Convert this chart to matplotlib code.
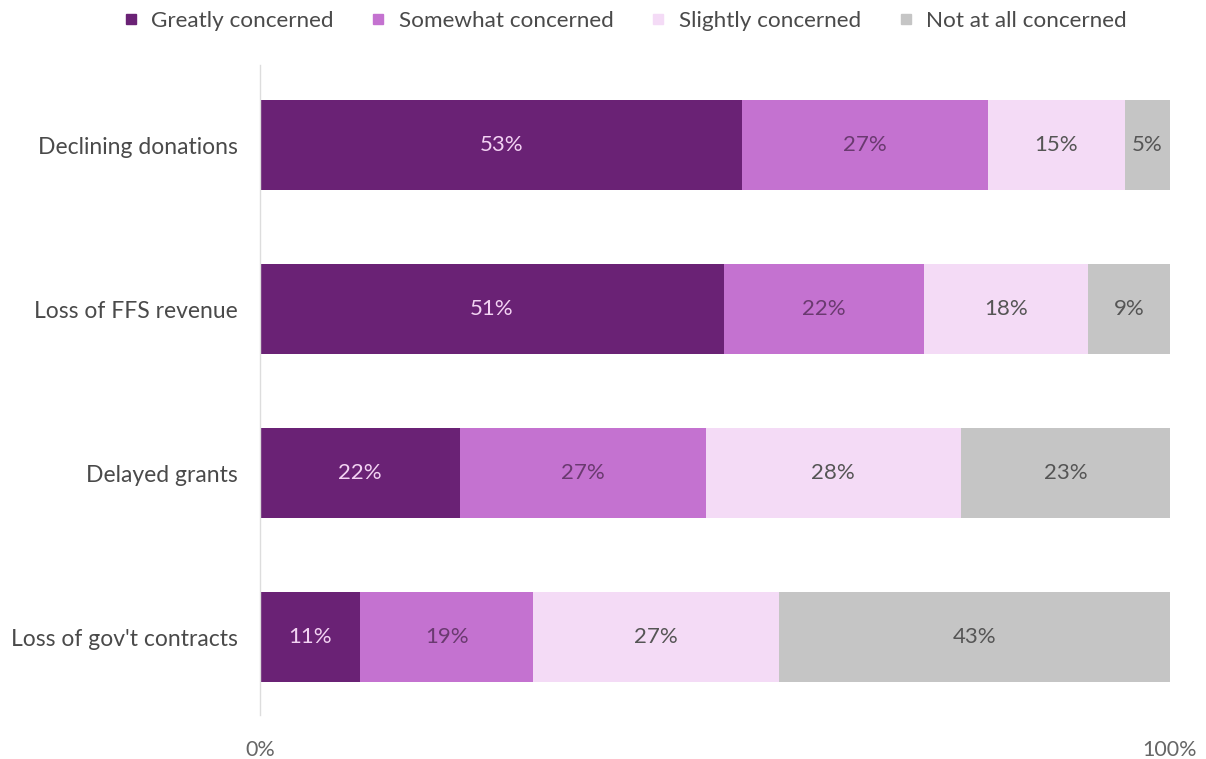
import matplotlib.pyplot as plt
from matplotlib.lines import Line2D

plt.rcParams['font.family'] = ['Lato', 'DejaVu Sans']

categories = ["Declining donations", "Loss of FFS revenue", "Delayed grants", "Loss of gov't contracts"]
series = ["Greatly concerned", "Somewhat concerned", "Slightly concerned", "Not at all concerned"]
greatly = [53, 51, 22, 11]
somewhat = [27, 22, 27, 19]
slightly = [15, 18, 28, 27]
not_at_all = [5, 9, 23, 43]

colors = ["#6a2275", "#c472d0", "#f4dbf6", "#c5c5c5"]
text_colors = ["#f3d3f3", "#6a3a70", "#555555", "#555555"]

fig = plt.figure(figsize=(12.06, 7.59), dpi=100)
ax = fig.add_axes([260 / 1206, 1 - 715 / 759, 910 / 1206, 650 / 759])

y = range(len(categories))
left = [0] * len(categories)
for vals, col, tcol, name in zip([greatly, somewhat, slightly, not_at_all], colors, text_colors, series):
    bars = ax.barh(y, vals, left=left, height=0.55, color=col, label=name)
    for b, v in zip(bars, vals):
        ax.text(b.get_x() + b.get_width() / 2, b.get_y() + b.get_height() / 2, f"{v}%",
                ha='center', va='center', color=tcol, fontsize=16)
    left = [l + v for l, v in zip(left, vals)]

ax.set_xlim(0, 100)
ax.set_ylim(3 + 78 / 164, -80 / 164)
ax.set_yticks(list(y))
ax.set_yticklabels(categories, fontsize=16.5, color="#4a4a4a")
ax.tick_params(axis='y', length=0, pad=16)
ax.set_xticks([0, 100])
ax.set_xticklabels(["0%", "100%"], fontsize=15.5, color="#666666")
ax.tick_params(axis='x', length=0, pad=18)
for s in ['top', 'right', 'bottom']:
    ax.spines[s].set_visible(False)
ax.spines['left'].set_color("#dddddd")
ax.spines['left'].set_linewidth(1)

handles = [Line2D([], [], marker='s', linestyle='none', markersize=6.5, color=c) for c in colors]
leg = fig.legend(handles, series, loc='upper center', bbox_to_anchor=(0.512, 1.012), ncol=4, frameon=False,
                 fontsize=16.2, handletextpad=-0.1, columnspacing=1.0, labelcolor="#4a4a4a")

fig.savefig("out.png", dpi=100)
